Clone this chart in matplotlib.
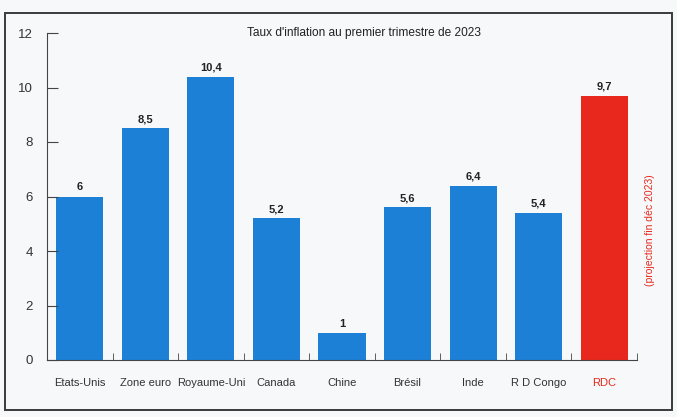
import matplotlib.pyplot as plt
from matplotlib.patches import Rectangle

pays = ['Etats-Unis', 'Zone euro', 'Royaume-Uni', 'Canada', 'Chine',
        'Brésil', 'Inde', 'R D Congo', 'RDC']
taux = [6, 8.5, 10.4, 5.2, 1, 5.6, 6.4, 5.4, 9.7]
etiquettes = ['6', '8,5', '10,4', '5,2', '1', '5,6', '6,4', '5,4', '9,7']
couleurs = ['#1b80d6'] * 8 + ['#e8281c']

plt.rcParams['font.family'] = ['Liberation Sans', 'DejaVu Sans']

fig = plt.figure(figsize=(6.77, 4.17), dpi=100)
fig.patch.set_facecolor('#f6f8f9')
fig.patches.append(Rectangle((5 / 677, 7 / 417), 667 / 677, 397 / 417,
                             transform=fig.transFigure, fill=False,
                             edgecolor='#3a3a3a', linewidth=1.4))

ax = fig.add_axes([47 / 677, 57 / 417, 590 / 677, 327 / 417])
ax.set_facecolor('#f6f8f9')

x = list(range(len(pays)))
ax.bar(x, taux, width=0.72, color=couleurs)
for i in x:
    ax.text(i, taux[i] + 0.15, etiquettes[i], ha='center', va='bottom',
            fontsize=8, fontweight='bold', color='#222222')

ax.set_xlim(-0.5, 8.5)
ax.set_ylim(0, 12)
ax.set_yticks([0, 2, 4, 6, 8, 10, 12])
ax.set_xticks(x)
ax.set_xticklabels(pays, fontsize=8, color='#333333')
ax.get_xticklabels()[-1].set_color('#e8281c')
ax.tick_params(axis='x', length=0, pad=13)
ax.set_xticks([i + 0.5 for i in x], minor=True)
ax.tick_params(axis='x', which='minor', direction='in', length=5, color='#444444')
ax.tick_params(axis='y', direction='in', length=8, labelsize=9.5, pad=10,
               color='#444444', labelcolor='#333333')

for s in ['top', 'right']:
    ax.spines[s].set_visible(False)
for s in ['left', 'bottom']:
    ax.spines[s].set_color('#444444')

ax.text(4.33, 12, "Taux d'inflation au premier trimestre de 2023", ha='center',
        va='center', fontsize=8.6, color='#222222')
fig.text(650 / 677, 1 - 230 / 417, '(projection fin déc 2023)', rotation=90,
         ha='center', va='center', fontsize=7.5, color='#e8281c')

plt.savefig('out.png', dpi=100, facecolor=fig.get_facecolor())
